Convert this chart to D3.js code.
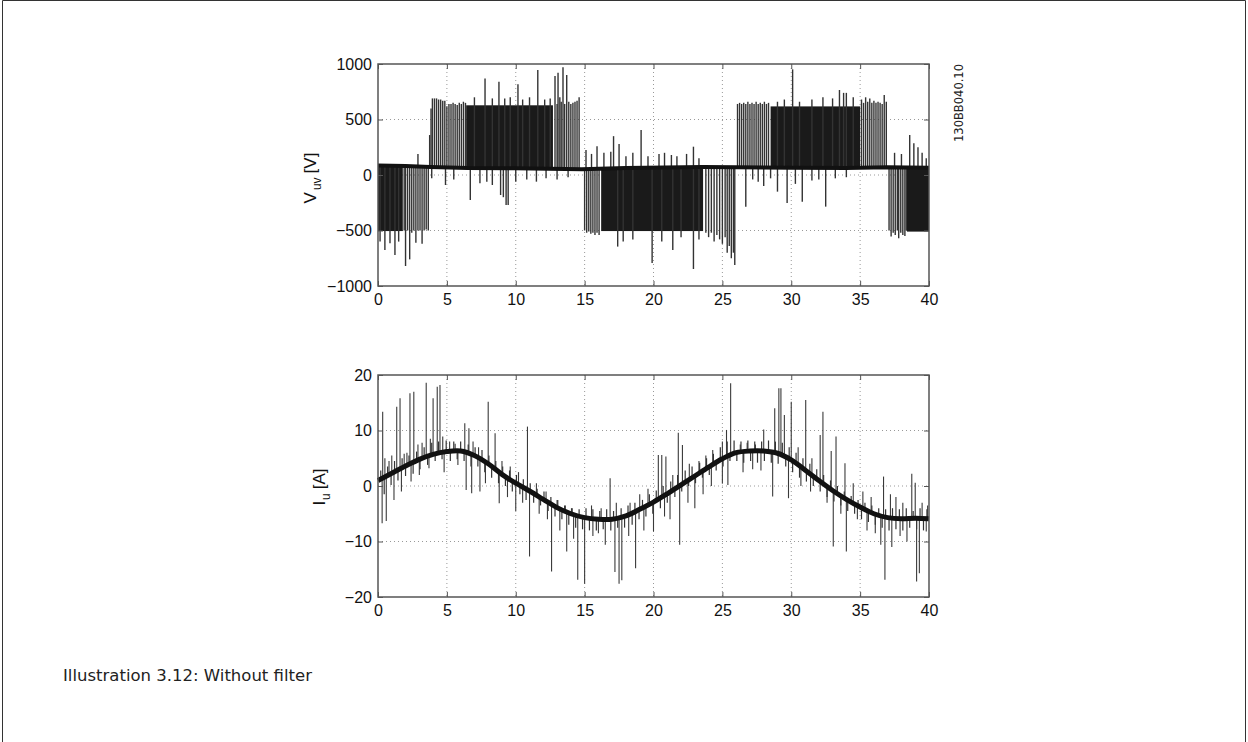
<!DOCTYPE html>
<html>
<head>
<meta charset="utf-8">
<script src="https://cdn.jsdelivr.net/npm/d3@7"></script>
<style>
  body { margin: 0; background: #fff; }
  svg { display: block; }
</style>
</head>
<body>
<svg id="chart" width="1248" height="742"></svg>
<script>
// ---- Axis ticks ----
const timeTicks = [0, 5, 10, 15, 20, 25, 30, 35, 40];
const voltTicks = [-1000, -500, 0, 500, 1000];
const currTicks = [-20, -10, 0, 10, 20];

// ---- V_uv: zero-state level (ms, V) ----
const vBaseT = [0, 2, 3.8, 6.5, 10, 14.8, 18, 23.6, 26, 30, 34, 37, 40];
const vBaseV = [85, 80, 72, 62, 60, 52, 62, 72, 70, 66, 64, 70, 66];

// ---- V_uv: densely switched intervals (ms, V) ----
const vBlockStart = [0, 6.4, 16.2, 28.5, 38.4];
const vBlockEnd   = [1.8, 12.7, 23.6, 35.0, 40];
const vBlockLow   = [-505, 60, -505, 64, -510];
const vBlockHigh  = [84, 628, 70, 618, 68];

// ---- V_uv: individual switching pulses (ms, peak V) ----
const vPulseT = [
  0.15, 0.5, 0.87, 1.23, 1.5, 1.9, 2.0, 2.15, 2.3, 2.45, 2.6, 2.75, 2.9, 3.05, 3.2, 3.35, 3.5, 3.65,
  2.9, 3.75,
  3.85, 3.95, 4.1, 4.25, 4.4, 4.55, 4.7, 4.85, 5.0, 5.15, 5.3, 5.45, 5.6, 5.75, 5.9, 6.05, 6.2, 6.35,
  7.0, 7.77, 8.3, 8.78, 9.2, 9.6, 10.16, 10.5, 11.0, 11.6, 12.1, 12.5,
  12.85, 13.0, 13.07, 13.2, 13.3, 13.43, 13.55, 13.7, 13.85, 14.0, 14.15, 14.3, 14.45, 14.6,
  3.9, 4.9, 5.5, 6.7, 7.4, 7.9, 8.3, 8.9, 9.1, 9.3, 9.45, 10.0, 10.8, 11.5, 12.2, 13.0, 13.8,
  15.0, 15.15, 15.3, 15.45, 15.6, 15.75, 15.9, 16.05,
  17.4, 17.8, 18.5, 19.9, 20.6, 21.4, 22.0, 22.9, 23.3,
  23.8, 24.0, 24.2, 24.4, 24.6, 24.8, 25.0, 25.2, 25.35, 25.5, 25.65, 25.8, 25.9,
  15.1, 15.5, 15.9, 16.4, 16.9, 17.1, 17.5, 18.0, 18.5, 19.1, 19.6, 20.4, 20.8, 21.3, 21.7, 22.4, 22.9, 23.3,
  26.1, 26.25, 26.4, 26.55, 26.7, 26.85, 27.0, 27.15, 27.3, 27.45, 27.6, 27.75, 27.9, 28.05, 28.2, 28.35,
  29.0, 29.5, 30.1, 30.6, 31.5, 32.3, 33.0, 33.5, 33.8, 34.0, 34.5,
  35.1, 35.25, 35.4, 35.55, 35.7, 35.85, 36.0, 36.15, 36.3, 36.45, 36.6, 36.75, 36.9,
  26.7, 27.2, 27.6, 28.0, 28.5, 29.0, 29.7, 30.3, 30.8, 31.5, 32.0, 32.5, 33.2, 34.0,
  37.1, 37.25, 37.4, 37.55, 37.7, 37.8, 37.95, 38.1, 38.25, 38.35,
  37.5, 38.0, 38.6, 38.9, 39.2, 39.5, 39.8
];
const vPulseV = [
  -600, -675, -615, -720, -600, -500, -820, -500, -760, -520, -500, -610, -500, -500, -620, -500, -490, -500,
  190, 360,
  600, 690, 690, 690, 680, 680, 670, 670, 620, 640, 640, 650, 640, 630, 650, 640, 660, 650,
  700, 870, 690, 840, 690, 700, 817, 680, 700, 946, 680, 690,
  892, 640, 922, 700, 660, 970, 640, 900, 660, 640, 650, 660, 670, 700,
  -30, -90, -40, -225, -75, -60, -90, -180, -200, -270, -270, -60, -40, -60, -30, -40, -20,
  -500, -520, -510, -530, -520, -540, -520, -540,
  -645, -600, -580, -793, -600, -676, -560, -847, -580,
  -520, -560, -520, -600, -540, -580, -620, -560, -700, -640, -750, -700, -811,
  225, 190, 260, 200, 210, 350, 280, 170, 200, 405, 170, 190, 200, 180, 170, 190, 255, 150,
  640, 650, 640, 650, 640, 660, 640, 650, 640, 660, 640, 650, 640, 660, 640, 650,
  660, 680, 952, 660, 680, 700, 690, 766, 740, 740, 700,
  680, 650, 700, 660, 690, 650, 670, 650, 660, 650, 640, 720, 660,
  -285, -40, -60, -100, -30, -150, -252, -80, -240, -50, -40, -285, -30, -20,
  -500, -555, -520, -540, -500, -570, -520, -540, -550, -500,
  200, 189, 360, 285, 250, 200, 150
];

// ---- I_u: fundamental current trace (ms, A) ----
const iCurveT = [0, 1, 2, 3, 4, 5, 6, 7, 8, 9, 10, 11, 12, 13, 14, 15, 16, 17, 18, 19, 20,
                 21, 22, 23, 24, 25, 26, 27, 28, 29, 30, 31, 32, 33, 34, 35, 36, 37, 38, 39, 40];
const iCurveI = [1.0, 2.3, 3.6, 4.8, 5.7, 6.2, 6.3, 5.5, 4.0, 2.1, 0.5, -0.9, -2.4, -3.9, -5.0, -5.7, -6.0, -6.0, -5.4, -4.2, -2.9,
                 -1.4, 0.2, 1.8, 3.4, 4.9, 6.0, 6.3, 6.3, 5.9, 4.7, 2.9, 1.0, -0.8, -2.4, -3.8, -5.0, -5.7, -5.9, -5.8, -5.9];

// ---- I_u: large ripple spikes (ms, A) ----
const iSpikeT = [
  0.34, 0.5, 0.8, 1.0, 1.36, 1.6, 1.9, 2.1, 2.32, 2.6, 2.9, 3.2, 3.5, 3.8, 4.0, 4.3, 4.5, 4.7, 5.2, 5.6,
  6.3, 6.6, 6.9, 7.3, 8.0, 8.5, 9.0, 9.6, 10.2, 10.85, 11.5, 12.2, 13.0, 13.6, 14.1, 15.5, 16.2, 16.85, 17.3, 18.3,
  19.0, 19.6, 20.35, 20.6, 20.9, 21.4, 21.8, 22.1, 22.6, 23.3, 23.8, 24.3, 25.0, 25.3, 25.6, 26.3, 26.8, 27.4, 28.0, 28.8,
  29.1, 29.25, 29.5, 30.0, 30.5, 31.05, 31.5, 32.1, 32.3, 32.9, 33.25, 33.9, 34.5, 35.2, 35.8, 36.7, 37.2, 37.6, 38.1, 38.75,
  39.0, 39.5, 39.9,
  0.3, 0.6, 1.16, 1.7, 2.4, 3.0, 3.7, 4.8, 5.8, 6.4, 6.8, 7.4, 7.8, 8.8, 9.4, 10.0, 10.5, 11.0, 11.7, 12.3,
  12.6, 13.2, 13.7, 14.2, 14.5, 15.0, 15.6, 16.0, 16.5, 17.2, 17.5, 17.7, 18.2, 18.7, 19.3, 20.0, 20.8, 21.2, 21.9, 22.5,
  23.0, 23.6, 24.2, 25.0, 25.4, 26.5, 27.2, 27.8, 28.65, 29.8, 30.7, 31.4, 32.6, 33.05, 33.6, 34.0, 34.8, 35.5, 36.1, 36.5,
  36.8, 37.3, 37.9, 38.4, 39.1, 39.3, 39.8
];
const iSpikeI = [
  13.4, 5, 4.5, 5.5, 14.3, 15.8, 5.8, 6, 16.7, 17, 7.5, 7.8, 18.6, 8.5, 15.8, 17.9, 18.2, 8.9, 8, 7.6,
  11.3, 10.4, 8, 7, 15.2, 9.5, 4.5, 3.5, 2.5, 10.7, 0.5, -1, -2.5, -3.5, -4, -3.5, -4, 1.4, -3, -3,
  -1.5, -0.5, 5.6, 5.6, 5.3, 2, 9.6, 7.4, 4, 4.5, 5.5, 6.5, 8, 10.1, 18.5, 7.5, 7.8, 7.5, 10.2, 14,
  17.6, 17.6, 12.8, 15.2, 7, 15.5, 5, 9.2, 13.4, 6.3, 8.9, 4.1, 0.5, -1, -2, 1.7, -1.5, -2, -3, 2.2,
  0.6, -3, -3.5,
  -6.7, -6.3, -2.5, -1, 0.8, 2, 3.2, 2.5, 3.8, -0.7, -1.3, -1, 0.5, -3.1, -2, -4.5, -3, -12.7, -5, -6,
  -15.4, -8, -11.8, -9.5, -16.9, -17.6, -9, -8.5, -10.6, -15.5, -17.6, -17, -9, -14.8, -8, -8.2, -5.5, -6, -10.6, -3,
  -4, -1.5, 0, 0.5, 0.2, 2.5, 3, 2.8, -1.9, -2.2, 0, -1, -3, -10.9, -5, -11.8, -6, -8, -8.5, -10.6,
  -16.9, -11, -9, -10, -17.2, -15.7, -8.2
];

// ---- I_u: small switching ripple around the fundamental (ms, A) ----
const iRippleT = [
  0.2, 0.45, 0.7, 0.95, 1.2, 1.45, 1.75, 2.0, 2.25, 2.55, 2.8, 3.05, 3.35, 3.6, 3.9, 4.15, 4.4, 4.65, 4.95, 5.25,
  5.5, 5.75, 6.0, 6.25, 6.55, 6.75, 7.05, 7.25, 7.55, 7.75, 8.05, 8.25, 8.55, 8.75, 9.05, 9.25, 9.55, 9.75, 10.05, 10.3,
  10.55, 10.75, 11.05, 11.3, 11.55, 11.8, 12.05, 12.35, 12.55, 12.85, 13.05, 13.35, 13.55, 13.85, 14.05, 14.35, 14.6, 14.85, 15.1, 15.35,
  15.6, 15.85, 16.1, 16.35, 16.6, 16.9, 17.1, 17.4, 17.65, 17.9, 18.15, 18.45, 18.65, 18.95, 19.2, 19.45, 19.7, 19.95, 20.2, 20.5,
  20.7, 21.0, 21.25, 21.55, 21.75, 22.05, 22.3, 22.55, 22.8, 23.05, 23.35, 23.55, 23.85, 24.05, 24.35, 24.55, 24.85, 25.05, 25.35, 25.55,
  25.85, 26.05, 26.35, 26.55, 26.85, 27.05, 27.35, 27.55, 27.85, 28.05, 28.35, 28.55, 28.85, 29.05, 29.35, 29.6, 29.85, 30.1, 30.35, 30.6,
  30.85, 31.1, 31.35, 31.6, 31.85, 32.1, 32.35, 32.6, 32.85, 33.1, 33.35, 33.6, 33.85, 34.1, 34.35, 34.6, 34.85, 35.1, 35.35, 35.6,
  35.85, 36.1, 36.35, 36.6, 36.85, 37.1, 37.35, 37.6, 37.85, 38.1, 38.35, 38.6, 38.85, 39.1, 39.35, 39.6, 39.85
];
const iRippleI = [
  2.8, -1.5, 3.5, 0.2, 4.5, 1, 5, 1.8, 5.5, 2.2, 6.2, 3, 7, 3.8, 7.8, 4.5, 8, 4.8, 8.2, 4.5,
  8, 4.8, 8, 4.5, 7.5, 3.5, 7, 3.5, 6.5, 2.5, 5.5, 1.5, 4.5, 0.5, 3.5, 0, 2.8, -1, 2, -1.5,
  1.2, -2.5, 0.5, -3, -0.5, -3.5, -1, -4.5, -2, -5.5, -2.5, -6, -3.5, -7, -4, -7.5, -4.2, -7.8, -4, -8,
  -4.2, -8, -4.5, -7.8, -4.2, -8, -4.5, -7.5, -4, -7.5, -3.5, -7, -3, -6, -2.5, -5.5, -1.5, -5, -0.8, -4,
  0, -3, 0.8, -2, 2, -1, 2.8, 0, 3.5, 0.5, 4.2, 1.5, 5, 2, 5.8, 2.8, 7, 3.5, 8, 4.5,
  8.2, 4.5, 8, 4.2, 8.2, 4.5, 8, 4.2, 8, 4.5, 8.2, 4.2, 8, 4, 7.8, 3.5, 7, 2.5, 6, 1.5,
  5, 0.8, 4, 0, 3, -1, 2, -2, 1, -2.8, 0, -3.5, -1, -4.5, -1.8, -5, -2.5, -6, -3, -6.5,
  -3.5, -7, -4, -7.5, -4.2, -8, -4, -7.8, -4.2, -8, -4, -7.5, -4.5, -7.8, -4, -8, -4.2
];

// ---- Layout ----
const svg = d3.select("#chart");
const plotLeft = 378, plotRight = 929;
const panels = [
  { top: 64, bottom: 286, domain: [-1000, 1000], ticks: voltTicks },
  { top: 375, bottom: 597, domain: [-20, 20], ticks: currTicks }
];

const x = d3.scaleLinear().domain([0, 40]).range([plotLeft, plotRight]);
const yV = d3.scaleLinear().domain(panels[0].domain).range([panels[0].bottom, panels[0].top]);
const yI = d3.scaleLinear().domain(panels[1].domain).range([panels[1].bottom, panels[1].top]);

// piecewise-linear level functions for anchoring the vertical strokes
const vBase = d3.scaleLinear().domain(vBaseT).range(vBaseV);
const iCurve = d3.scaleLinear().domain(iCurveT).range(iCurveI);

// outer frame
svg.append("path")
  .attr("d", "M2.5,742 V0.5 H1245.5 V742")
  .attr("fill", "none").attr("stroke", "#333").attr("stroke-width", 1);

function drawGrid(y, p) {
  const g = svg.append("g").attr("class", "grid");
  g.selectAll("line.gx").data(timeTicks.slice(1, -1)).join("line")
    .attr("x1", d => x(d)).attr("x2", d => x(d))
    .attr("y1", p.top).attr("y2", p.bottom)
    .attr("stroke", "#999").attr("stroke-width", 1).attr("stroke-dasharray", "1,3");
  g.selectAll("line.gy").data(p.ticks.slice(1, -1)).join("line")
    .attr("x1", plotLeft).attr("x2", plotRight)
    .attr("y1", d => y(d)).attr("y2", d => y(d))
    .attr("stroke", "#999").attr("stroke-width", 1).attr("stroke-dasharray", "1,3");
}

function drawAxes(y, p) {
  const fontFam = "'Liberation Sans', Arial, Helvetica, sans-serif";
  const b = svg.append("g").attr("transform", `translate(0,${p.bottom})`)
    .call(d3.axisBottom(x).tickValues(timeTicks).tickSize(-5).tickPadding(8).tickFormat(d3.format("d")));
  const t = svg.append("g").attr("transform", `translate(0,${p.top})`)
    .call(d3.axisTop(x).tickValues(timeTicks).tickSize(-5).tickFormat(""));
  const l = svg.append("g").attr("transform", `translate(${plotLeft},0)`)
    .call(d3.axisLeft(y).tickValues(p.ticks).tickSize(-5).tickPadding(6)
      .tickFormat(d => d < 0 ? "\u2212" + Math.abs(d) : String(d)));
  const r = svg.append("g").attr("transform", `translate(${plotRight},0)`)
    .call(d3.axisRight(y).tickValues(p.ticks).tickSize(-5).tickFormat(""));
  [b, t, l, r].forEach(g => {
    g.select(".domain").remove();
    g.selectAll(".tick line").attr("stroke", "#555");
    g.selectAll("text").attr("font-family", fontFam).attr("font-size", 16).attr("fill", "#111");
  });
  svg.append("rect")
    .attr("x", plotLeft).attr("y", p.top)
    .attr("width", plotRight - plotLeft).attr("height", p.bottom - p.top)
    .attr("fill", "none").attr("stroke", "#555").attr("stroke-width", 1.5);
}

// ---- Top panel: V_uv ----
drawGrid(yV, panels[0]);
const vPlot = svg.append("g");
vPlot.selectAll("rect.block").data(vBlockStart.map((s, i) => i)).join("rect")
  .attr("x", i => x(vBlockStart[i]))
  .attr("width", i => x(vBlockEnd[i]) - x(vBlockStart[i]))
  .attr("y", i => yV(vBlockHigh[i]))
  .attr("height", i => yV(vBlockLow[i]) - yV(vBlockHigh[i]))
  .attr("fill", "#1a1a1a");
vPlot.selectAll("line.pulse").data(vPulseT.map((t, i) => i)).join("line")
  .attr("x1", i => x(vPulseT[i])).attr("x2", i => x(vPulseT[i]))
  .attr("y1", i => yV(vBase(vPulseT[i]))).attr("y2", i => yV(vPulseV[i]))
  .attr("stroke", "#333").attr("stroke-width", 1.4);
vPlot.append("path")
  .datum(vBaseT.map((t, i) => [t, vBaseV[i]]))
  .attr("d", d3.line().x(d => x(d[0])).y(d => yV(d[1])))
  .attr("fill", "none").attr("stroke", "#111").attr("stroke-width", 4);
drawAxes(yV, panels[0]);

// ---- Bottom panel: I_u ----
drawGrid(yI, panels[1]);
const iPlot = svg.append("g");
iPlot.selectAll("line.ripple").data(iRippleT.map((t, i) => i)).join("line")
  .attr("x1", i => x(iRippleT[i])).attr("x2", i => x(iRippleT[i]))
  .attr("y1", i => yI(iCurve(iRippleT[i]))).attr("y2", i => yI(iRippleI[i]))
  .attr("stroke", "#333").attr("stroke-width", 1.2);
iPlot.selectAll("line.spike").data(iSpikeT.map((t, i) => i)).join("line")
  .attr("x1", i => x(iSpikeT[i])).attr("x2", i => x(iSpikeT[i]))
  .attr("y1", i => yI(iCurve(iSpikeT[i]))).attr("y2", i => yI(iSpikeI[i]))
  .attr("stroke", "#3a3a3a").attr("stroke-width", 1.1);
iPlot.append("path")
  .datum(iCurveT.map((t, i) => [t, iCurveI[i]]))
  .attr("d", d3.line().x(d => x(d[0])).y(d => yI(d[1])).curve(d3.curveCatmullRom.alpha(0.5)))
  .attr("fill", "none").attr("stroke", "#111").attr("stroke-width", 5);
drawAxes(yI, panels[1]);

// ---- Axis titles ----
const titleFont = "'Liberation Sans', Arial, Helvetica, sans-serif";
const vTitle = svg.append("text")
  .attr("transform", "translate(316,178) rotate(-90)")
  .attr("text-anchor", "middle")
  .attr("font-family", titleFont).attr("font-size", 17).attr("fill", "#111");
vTitle.append("tspan").text("V");
vTitle.append("tspan").attr("font-size", 12).attr("dy", 5).attr("dx", 2).text("uv");
vTitle.append("tspan").attr("dy", -5).attr("dx", 4).text("[V]");

const iTitle = svg.append("text")
  .attr("transform", "translate(325,487) rotate(-90)")
  .attr("text-anchor", "middle")
  .attr("font-family", titleFont).attr("font-size", 17).attr("fill", "#111");
iTitle.append("tspan").text("I");
iTitle.append("tspan").attr("font-size", 12).attr("dy", 5).attr("dx", 1).text("u");
iTitle.append("tspan").attr("dy", -5).attr("dx", 4).text("[A]");

// ---- Drawing number and caption ----
svg.append("text")
  .attr("transform", "translate(963,103) rotate(-90)")
  .attr("text-anchor", "middle")
  .attr("font-family", "'DejaVu Sans', Verdana, sans-serif")
  .attr("font-size", 11.5).attr("fill", "#222")
  .text("130BB040.10");

svg.append("text")
  .attr("x", 63).attr("y", 681)
  .attr("font-family", "'DejaVu Sans', Verdana, sans-serif")
  .attr("font-size", 16.5).attr("fill", "#222")
  .text("Illustration 3.12: Without filter");
</script>
</body>
</html>
